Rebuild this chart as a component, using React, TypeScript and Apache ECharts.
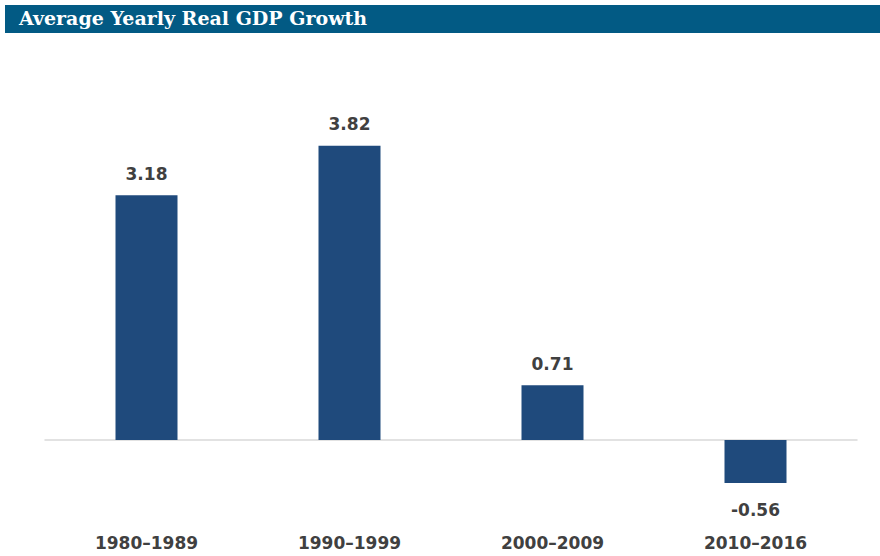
import React, { useEffect, useRef } from "react";
import * as echarts from "echarts";

const categories = ["1980–1989", "1990–1999", "2000–2009", "2010–2016"];
const growth = [3.18, 3.82, 0.71, -0.56];
const titleText = "Average Yearly Real GDP Growth";

export default function App() {
  const ref = useRef<HTMLDivElement>(null);
  useEffect(() => {
    const chart = echarts.init(ref.current!, null, { renderer: "svg" });
    chart.setOption({
      animation: false,
      backgroundColor: "#ffffff",
      graphic: [
        {
          type: "rect",
          left: 5,
          top: 5,
          shape: { width: 875, height: 28 },
          style: { fill: "#025a84" },
        },
        {
          type: "text",
          left: 19,
          top: 8,
          style: {
            text: titleText,
            fill: "#ffffff",
            font: "bold 19px 'DejaVu Serif', 'Liberation Serif', serif",
          },
        },
      ],
      grid: {
        left: 45,
        right: 23,
        top: 132,
        bottom: 39,
        containLabel: false,
        outerBoundsMode: "none",
      },
      xAxis: {
        type: "category",
        data: categories,
        axisLine: { onZero: true, lineStyle: { color: "#d9d9d9", width: 1.5 } },
        axisTick: { show: false },
        axisLabel: {
          margin: 17,
          color: "#404040",
          fontWeight: "bold",
          fontSize: 17,
          fontFamily: "DejaVu Sans, Verdana, sans-serif",
        },
      },
      yAxis: {
        type: "value",
        min: -1,
        max: 4,
        show: false,
        splitLine: { show: false },
      },
      series: [
        {
          type: "bar",
          barWidth: 62,
          itemStyle: { color: "#1f4a7c" },
          data: growth.map((v) => ({
            value: v,
            label: { position: v < 0 ? "bottom" : "top", distance: v < 0 ? 18 : 13 },
          })),
          label: {
            show: true,
            color: "#404040",
            fontWeight: "bold",
            fontSize: 17,
            fontFamily: "DejaVu Sans, Verdana, sans-serif",
            formatter: (p: any) => p.value.toFixed(2),
          },
        },
      ],
    });
    return () => chart.dispose();
  }, []);
  return (
    <div
      ref={ref}
      style={{ position: "fixed", left: 0, top: 0, width: 880, height: 556 }}
    />
  );
}
